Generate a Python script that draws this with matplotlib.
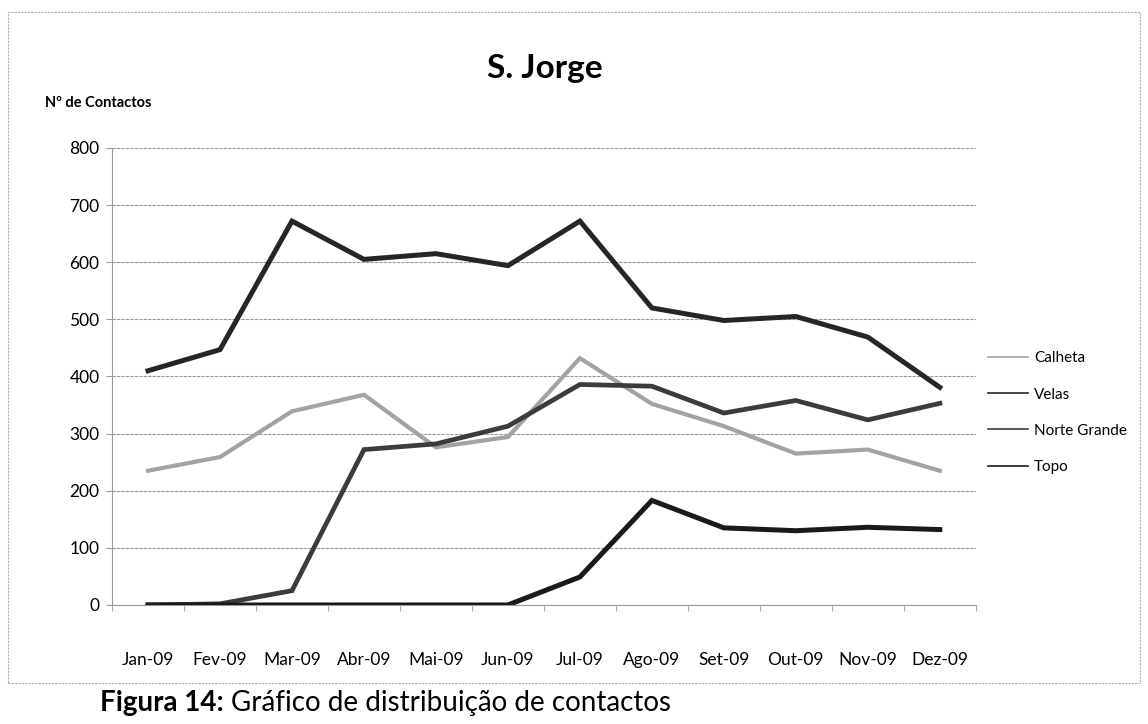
import matplotlib.pyplot as plt
from matplotlib.lines import Line2D
from matplotlib.patches import Rectangle

plt.rcParams['font.family'] = ['Lato', 'DejaVu Sans']

# Contactos por mês em S. Jorge (2009)
meses = ['Jan-09', 'Fev-09', 'Mar-09', 'Abr-09', 'Mai-09', 'Jun-09',
         'Jul-09', 'Ago-09', 'Set-09', 'Out-09', 'Nov-09', 'Dez-09']
calheta = [235, 259, 339, 368, 276, 294, 432, 352, 313, 265, 272, 235]
velas = [410, 447, 672, 605, 615, 594, 672, 520, 498, 505, 469, 381]
norte_grande = [0, 2, 25, 272, 282, 313, 386, 383, 336, 358, 324, 353]
topo = [0, 0, 0, 0, 0, 0, 49, 183, 135, 130, 136, 132]

series = [
    ('Calheta', calheta, '#a3a3a3', 3.0),
    ('Velas', velas, '#262626', 3.6),
    ('Norte Grande', norte_grande, '#3c3c3c', 3.4),
    ('Topo', topo, '#1a1a1a', 3.6),
]

fig = plt.figure(figsize=(11.48, 7.24), dpi=100)
ax = fig.add_axes([0.0976, 0.1644, 0.7524, 0.6312])

x = range(len(meses))
for nome, valores, cor, lw in series:
    ax.plot(x, valores, color=cor, lw=lw, solid_joinstyle='miter', zorder=3)

ax.set_xlim(-0.5, len(meses) - 0.5)
ax.set_ylim(0, 800)
ax.set_yticks(range(0, 801, 100))
ax.set_xticks(list(x))
ax.set_xticklabels(meses)
ax.set_xticks([i + 0.5 for i in range(-1, len(meses))], minor=True)
ax.grid(axis='y', color='#9a9a9a', lw=0.8, linestyle=(0, (3, 1)))
ax.set_axisbelow(True)

for lado in ['top', 'right']:
    ax.spines[lado].set_visible(False)
ax.spines['left'].set_color('#9a9a9a')
ax.spines['bottom'].set_color('#9a9a9a')
ax.spines['left'].set_linewidth(0.8)
ax.spines['bottom'].set_linewidth(0.8)
ax.tick_params(axis='y', labelsize=12.5, length=4, color='#9a9a9a', pad=5)
ax.tick_params(axis='x', which='major', labelsize=12.5, length=0, pad=34)
ax.tick_params(axis='x', which='minor', length=4, color='#9a9a9a')

fig.text(0.475, 0.905, 'S. Jorge', fontsize=24, fontweight='bold',
         ha='center', va='center')
fig.text(0.039, 0.858, 'Nº de Contactos', fontsize=10.5, fontweight='bold',
         ha='left', va='center')

# legenda com traços finos à direita
pegas = [Line2D([], [], color=cor, lw=1.2) for _, _, cor, _ in series]
fig.legend(pegas, [s[0] for s in series], loc='center left',
           bbox_to_anchor=(0.849, 0.43), frameon=False, fontsize=11,
           handlelength=2.6, handletextpad=0.4, labelspacing=1.45)

# moldura do gráfico
fig.patches.append(Rectangle((8 / 1148, 1 - 683 / 724), 1132 / 1148, 671 / 724,
                             transform=fig.transFigure, fill=False,
                             edgecolor='#b0b0b0', lw=0.8, linestyle=(0, (2, 1))))

# legenda da figura, por baixo do gráfico
t1 = fig.text(0.087, 0.047, 'Figura 14:', fontsize=20, fontweight='bold',
              ha='left', va='top')
fig.canvas.draw()
bb = t1.get_window_extent()
fig.text(bb.x1 / fig.bbox.width + 0.006, 0.047,
         'Gráfico de distribuição de contactos', fontsize=20,
         ha='left', va='top')

fig.savefig('out.png', dpi=100)
